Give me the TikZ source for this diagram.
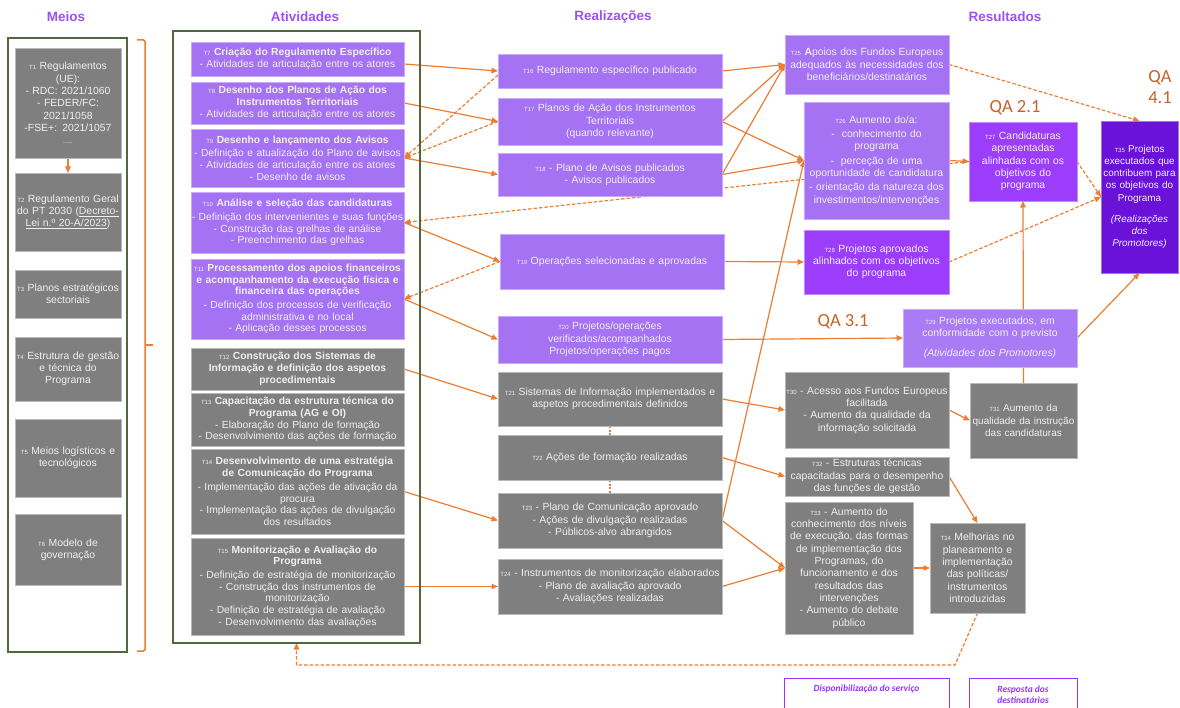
\documentclass[tikz,border=0pt]{standalone}
\usepackage{fontspec}
\setmainfont{Liberation Sans}
\newfontfamily\qafont{Carlito}
\usetikzlibrary{arrows.meta,backgrounds,calc}
\pgfdeclarelayer{bottom}
\pgfsetlayers{bottom,background,main}
\definecolor{lpur}{HTML}{A472F3}
\definecolor{mpur}{HTML}{9B3DFB}
\definecolor{dpur}{HTML}{6A12D8}
\definecolor{tpur}{HTML}{A97CF5}
\definecolor{grybox}{HTML}{7F7F7F}
\definecolor{org}{HTML}{ED7D31}
\definecolor{grn}{HTML}{4F6A3A}
\definecolor{ttl}{HTML}{9E50F8}
\definecolor{qac}{HTML}{C8612A}
\definecolor{lgd}{HTML}{9933FF}
\newcommand\tn[1]{{\fontsize{6}{6}\selectfont #1}}
\newcommand\mkbox[7]{%
  \pgfmathsetmacro\myW{#4-#2}\pgfmathsetmacro\myH{#5-#3}%
  \pgfmathsetmacro\myCX{(#2+#4)/2}\pgfmathsetmacro\myCY{(#3+#5)/2}%
  \pgfmathsetmacro\myTW{#4-#2-1.5}%
  \node[#6,minimum width=\myW pt,minimum height=\myH pt,text width=\myTW pt] (#1) at (\myCX,\myCY) {#7};}
\tikzset{
  bxbase/.style={inner sep=0.5pt, outer sep=0pt, align=center, text=white!94!black, font=\fontsize{10.4}{12.3}\selectfont},
  actf/.style={font=\fontsize{10.3}{11.7}\selectfont},
  smf/.style={font=\fontsize{10}{12.3}\selectfont},
  pbox/.style={bxbase, fill=lpur, draw=lpur!60!white, line width=0.7pt},
  gbox/.style={bxbase, fill=grybox, draw=grybox!55!white, line width=0.7pt},
  mbox/.style={bxbase, fill=mpur, draw=mpur!60!white, line width=0.7pt},
  dbox/.style={bxbase, fill=dpur, draw=dpur!60!white, line width=0.7pt, font=\fontsize{9.9}{12.2}\selectfont},
  tbox/.style={bxbase, fill=tpur, draw=tpur!60!white, line width=0.7pt},
  frm/.style={draw=grn, line width=2pt, inner sep=0pt, outer sep=0pt},
  ar/.style={draw=org, line width=1.2pt, -{Triangle[length=6.5pt,width=5.5pt]}},
  dar/.style={ar, dash pattern=on 3.5pt off 2pt},
  hd/.style={text=ttl, font=\fontsize{13.5}{15}\selectfont\bfseries},
  qa/.style={text=qac, font=\qafont\fontsize{18.5}{21}\selectfont, align=center},
  lgbox/.style={draw=lgd, line width=0.8pt},
  lgt/.style={text=lgd, font=\qafont\fontsize{9.5}{11.5}\selectfont\bfseries\itshape, align=center},
}
\begin{document}
\begin{tikzpicture}[x=1pt,y=-1pt]
\useasboundingbox (0,0) rectangle (1180,708);
\begin{pgfonlayer}{bottom}
\fill[white] (0,0) rectangle (1180,708);
\end{pgfonlayer}

% headings
\node[hd] (hMeios) at (66,17) {Meios};
\node[hd] (hAtiv) at (305,17) {Atividades};
\node[hd] (hReal) at (613,17) {Realizações};
\node[hd] (hRes) at (1005,17) {Resultados};

% frames
\mkbox{meiosframe}{8}{38}{127}{652}{frm}{}
\mkbox{actframe}{173}{31}{420}{643}{frm}{}

% bracket
\draw[org, line width=1.5pt, rounded corners=1.5pt] (137,40) -- (145,40) -- (145,651) -- (137,651);
\draw[org, line width=1.5pt] (145,345) -- (153,345);

% Meios
\mkbox{T1}{15}{48}{121}{158}{gbox}{\tn{T1} Regulamentos\\(UE):\\- RDC: 2021/1060\\- FEDER/FC:\\2021/1058\\-FSE+: 2021/1057\\{\fontsize{7}{8}\selectfont .....}}
\mkbox{T2}{15}{173}{121}{251}{gbox}{\tn{T2} Regulamento Geral\\do PT 2030 (\underline{Decreto-}\\\underline{Lei n.º 20-A/2023})}
\mkbox{T3}{15}{270}{121}{318}{gbox}{\tn{T3} Planos estratégicos\\sectoriais}
\mkbox{T4}{15}{337}{121}{401}{gbox}{\tn{T4} Estrutura de gestão\\e técnica do\\Programa}
\mkbox{T5}{15}{419}{121}{497}{gbox}{\tn{T5} Meios logísticos e\\tecnológicos}
\mkbox{T6}{15}{514}{121}{585}{gbox}{\tn{T6} Modelo de\\governação}

% Atividades
\mkbox{T7}{191}{42}{404}{76}{pbox,actf}{\tn{T7} \textbf{Criação do Regulamento Específico}\\- Atividades de articulação entre os atores}
\mkbox{T8}{191}{82}{404}{124}{pbox,actf}{\tn{T8} \textbf{Desenho dos Planos de Ação dos}\\\textbf{Instrumentos Territoriais}\\- Atividades de articulação entre os atores}
\mkbox{T9}{191}{129}{404}{187}{pbox,actf}{\tn{T9} \textbf{Desenho e lançamento dos Avisos}\\[2pt]- Definição e atualização do Plano de avisos\\- Atividades de articulação entre os atores\\- Desenho de avisos}
\mkbox{T10}{191}{192}{404}{253}{pbox,actf}{\tn{T10} \textbf{Análise e seleção das candidaturas}\\[2pt]- Definição dos intervenientes e suas funções\\- Construção das grelhas de análise\\- Preenchimento das grelhas}
\mkbox{T11}{191}{259}{404}{339}{pbox,actf}{\tn{T11} \textbf{Processamento dos apoios financeiros}\\\textbf{e acompanhamento da execução física e}\\\textbf{financeira das operações}\\[2pt]- Definição dos processos de verificação\\administrativa e no local\\- Aplicação desses processos}
\mkbox{T12}{191}{348}{404}{390}{gbox,actf}{\tn{T12} \textbf{Construção dos Sistemas de}\\\textbf{Informação e definição dos aspetos}\\\textbf{procedimentais}}
\mkbox{T13}{191}{393}{404}{446}{gbox,actf}{\tn{T13} \textbf{Capacitação da estrutura técnica do}\\\textbf{Programa (AG e OI)}\\- Elaboração do Plano de formação\\- Desenvolvimento das ações de formação}
\mkbox{T14}{191}{449}{404}{534}{gbox,actf}{\tn{T14} \textbf{Desenvolvimento de uma estratégia}\\\textbf{de Comunicação do Programa}\\[2pt]- Implementação das ações de ativação da\\procura\\- Implementação das ações de divulgação\\dos resultados}
\mkbox{T15}{191}{538}{404}{635}{gbox,actf}{\tn{T15} \textbf{Monitorização e Avaliação do}\\\textbf{Programa}\\[2pt]- Definição de estratégia de monitorização\\- Construção dos instrumentos de\\monitorização\\- Definição de estratégia de avaliação\\- Desenvolvimento das avaliações}

% Realizacoes
\mkbox{T16}{498}{54}{722}{88}{pbox}{\tn{T16} Regulamento específico publicado}
\mkbox{T17}{498}{98}{722}{145}{pbox}{\tn{T17} Planos de Ação dos Instrumentos\\Territoriais\\(quando relevante)}
\mkbox{T18}{498}{153}{722}{196}{pbox}{\tn{T18} - Plano de Avisos publicados\\- Avisos publicados}
\mkbox{T19}{500}{234}{724}{289}{pbox}{\tn{T19} Operações selecionadas e aprovadas}
\mkbox{T20}{498}{316}{722}{363}{pbox}{\tn{T20} Projetos/operações\\verificados/acompanhados\\Projetos/operações pagos}
\mkbox{T21}{498}{372}{722}{426}{gbox}{\tn{T21} Sistemas de Informação implementados e\\aspetos procedimentais definidos}
\mkbox{T22}{498}{435}{722}{480}{gbox}{\tn{T22} Ações de formação realizadas}
\mkbox{T23}{498}{493}{722}{548}{gbox}{\tn{T23} - Plano de Comunicação aprovado\\- Ações de divulgação realizadas\\- Públicos-alvo abrangidos}
\mkbox{T24}{498}{559}{722}{614}{gbox}{\tn{T24} - Instrumentos de monitorização elaborados\\- Plano de avaliação aprovado\\- Avaliações realizadas}

% Resultados
\mkbox{T25}{785}{35}{949}{94}{pbox}{\tn{T25} \textbf{A}poios dos Fundos Europeus\\adequados às necessidades dos\\beneficiários/destinatários}
\mkbox{T26}{804}{102}{949}{219}{pbox}{\tn{T26} Aumento do/a:\\[2pt]-\ \ conhecimento do\\programa\\[2pt]-\ \ perceção de uma\\oportunidade de candidatura\\[2pt]- orientação da natureza dos\\investimentos/intervenções}
\mkbox{T27}{969}{122}{1077}{201}{mbox}{\tn{T27} Candidaturas\\apresentadas\\alinhadas com os\\objetivos do\\programa}
\mkbox{T28}{804}{230}{949}{294}{mbox}{\tn{T28} Projetos aprovados\\alinhados com os objetivos\\do programa}
\mkbox{T35}{1101}{121}{1178}{273}{dbox}{\tn{T35} Projetos\\executados que\\contribuem para\\os objetivos do\\Programa\\[9pt]\textit{(Realizações}\\\textit{dos}\\\textit{Promotores)}}
\mkbox{T29}{903}{309}{1077}{367}{tbox}{\tn{T29} Projetos executados, em\\conformidade com o previsto\\[8pt]\textit{(Atividades dos Promotores)}}
\mkbox{T30}{785}{372}{949}{448}{gbox}{\tn{T30} - Acesso aos Fundos Europeus\\facilitada\\- Aumento da qualidade da\\informação solicitada}
\mkbox{T31}{970}{383}{1077}{458}{gbox,smf}{\tn{T31} Aumento da\\qualidade da instrução\\das candidaturas}
\mkbox{T32}{785}{457}{949}{496}{gbox}{\tn{T32} - Estruturas técnicas\\capacitadas para o desempenho\\das funções de gestão}
\mkbox{T33}{785}{502}{913}{634}{gbox}{\tn{T33} - Aumento do\\conhecimento dos níveis\\de execução, das formas\\de implementação dos\\Programas, do\\funcionamento e dos\\resultados das\\intervenções\\- Aumento do debate\\público}
\mkbox{T34}{930}{523}{1025}{613}{gbox}{\tn{T34} Melhorias no\\planeamento e\\implementação\\das políticas/\\instrumentos\\introduzidas}

% QA labels
\node[qa] (qa21) at (1015,108) {QA 2.1};
\node[qa] (qa41) at (1160,87) {QA\\4.1};
\node[qa] (qa31) at (843,322) {QA 3.1};

% legend
\draw[lgbox] (784,712) -- (784,678) -- (949,678) -- (949,712);
\draw[lgbox] (969,712) -- (969,678) -- (1077,678) -- (1077,712);
\node[lgt] (lg1) at (866.5,689) {Disponibilização do serviço};
\node[lgt] (lg2) at (1023,694.5) {Resposta dos\\destinatários};

\coordinate (fb) at (955,665);

\begin{pgfonlayer}{background}
% Meios
\draw[ar] (T1.south) -- (T2.north);
% atividades -> realizacoes
\draw[ar] ([yshift=-5pt]T7.east) -- (T16.west);
\draw[ar] (T8.east) -- (T17.west);
\draw[ar] (T9.east) -- (T18.west);
\draw[ar] (T10.east) -- (T19.west);
\draw[ar] (T11.east) -- (T20.west);
\draw[ar] (T12.east) -- (T21.west);
\draw[ar] (T14.east) -- (T23.west);
\draw[ar] (T15.east) -- (T24.west);
% feedback dashed
\draw[dar] ([yshift=-4pt]T16.west) -- (T9.east);
\draw[dar] (T17.west) -- (T9.east);
\draw[dar] (T19.west) -- (T11.east);
\draw[dar] (T27.west) -- (T10.east);
% realizacoes -> resultados
\draw[ar] (T16.east) -- (T25.west);
\draw[ar] (T17.east) -- (T25.west);
\draw[ar] (T17.east) -- (T26.west);
\draw[ar] (T18.east) -- (T25.west);
\draw[ar] (T18.east) -- (T26.west);
\draw[ar] (T19.east) -- (T28.west);
\draw[ar] (T20.east) -- (T29.west);
\draw[ar] (T23.east) -- (T26.west);
\draw[ar] (T23.east) -- (T33.west);
\draw[ar] (T24.east) -- (T33.west);
\draw[ar] (T21.east) -- (T30.west);
\draw[ar] (T22.east) -- (T32.west);
\draw[org, line width=1.2pt, dash pattern=on 2pt off 1.5pt] (T21.south) -- (T22.north);
\draw[org, line width=1.2pt, dash pattern=on 2pt off 1.5pt] (T22.south) -- (T23.north);
% resultados
\draw[ar] (T26.east) -- (T27.west);
\draw[dar] (T25.east) -- (T35.north);
\draw[dar] (T27.east) -- (T35.west);
\draw[dar] (T28.east) -- (T35.west);
\draw[ar] (T29.east) -- (T35.south);
\draw[ar] (T31.north) -- (T27.south);
\draw[ar] (T30.east) -- (T31.west);
\draw[ar] (T32.east) -- (T34.north);
\draw[ar] (T33.east) -- (T34.west);
\draw[dar] (T34.south) -- (fb) -- (fb -| actframe.south) -- (actframe.south);
\end{pgfonlayer}
\end{tikzpicture}
\end{document}
